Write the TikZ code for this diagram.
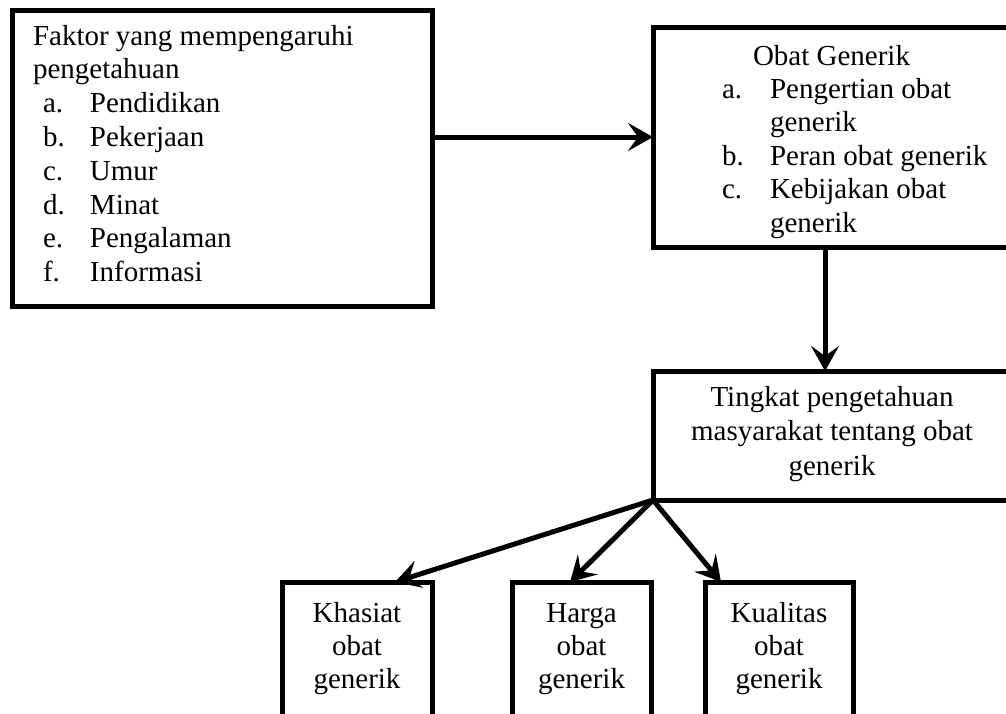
\documentclass[tikz,border=0pt]{standalone}
\usepackage{fontspec}
\setmainfont{Liberation Serif}
\usetikzlibrary{arrows.meta}
\begin{document}
\begin{tikzpicture}[x=1pt,y=-1pt,
  box/.style={draw, line width=5pt, inner sep=0pt, outer sep=0pt, anchor=north west},
  txt/.style={inner sep=0pt, outer sep=0pt, font=\fontsize{29}{33.8}\selectfont},
  arr/.style={line width=5pt, -{Stealth[length=25pt,width=28pt,inset=10pt]}}]
\clip (0,0) rectangle (1006,713);
% boxes
\node[box, minimum width=420pt, minimum height=296pt] (b1) at (12,10) {};
\node[box, minimum width=380pt, minimum height=220pt] (b2) at (653,27) {};
\node[box, minimum width=380pt, minimum height=129pt] (b3) at (653,371) {};
\node[box, minimum width=150pt, minimum height=160pt] (k1) at (282,582) {};
\node[box, minimum width=139pt, minimum height=160pt] (k2) at (512,582) {};
\node[box, minimum width=148pt, minimum height=160pt] (k3) at (705,582) {};
% texts
\node[txt, anchor=north west] (t1) at (33,21.34) {\begin{tabular}{@{\hspace{10pt}}p{47pt}@{}l@{}}
\multicolumn{2}{@{}l@{}}{Faktor yang mempengaruhi}\\
\multicolumn{2}{@{}l@{}}{pengetahuan}\\
a.& Pendidikan\\
b.& Pekerjaan\\
c.& Umur\\
d.& Minat\\
e.& Pengalaman\\
f.& Informasi
\end{tabular}};
\node[txt, font=\fontsize{29}{33.4}\selectfont, anchor=north west] (t2) at (722,41.62) {\begin{tabular}{@{}p{48pt}@{}l@{}}
\multicolumn{2}{@{\hspace{31pt}}l@{}}{Obat Generik}\\
a.& Pengertian obat\\
 & generik\\
b.& Peran obat generik\\
c.& Kebijakan obat\\
 & generik
\end{tabular}};
\node[txt, font=\fontsize{29}{34.5}\selectfont, anchor=north] (t3) at (832,381.85) {\begin{tabular}{@{}c@{}}
Tingkat pengetahuan\\ masyarakat tentang obat\\ generik\end{tabular}};
\node[txt, font=\fontsize{29}{33.2}\selectfont, anchor=north] (t4) at (357,598.76) {\begin{tabular}{@{}c@{}}Khasiat\\ obat\\ generik\end{tabular}};
\node[txt, font=\fontsize{29}{33.2}\selectfont, anchor=north] (t5) at (581.5,598.76) {\begin{tabular}{@{}c@{}}Harga\\ obat\\ generik\end{tabular}};
\node[txt, font=\fontsize{29}{33.2}\selectfont, anchor=north] (t6) at (779,598.76) {\begin{tabular}{@{}c@{}}Kualitas\\ obat\\ generik\end{tabular}};
% connectors
\draw[arr] (b1.east |- 0,137) -- (b2.west |- 0,137);
\draw[arr] (b2.south -| 825,0) -- (b3.north -| 825,0);
\draw[arr] (b3.south west) -- (k1.north -| 395,0);
\draw[arr] (b3.south west) -- (k2.north -| 570,0);
\draw[arr] (b3.south west) -- (k3.north -| 721,0);
\end{tikzpicture}
\end{document}
